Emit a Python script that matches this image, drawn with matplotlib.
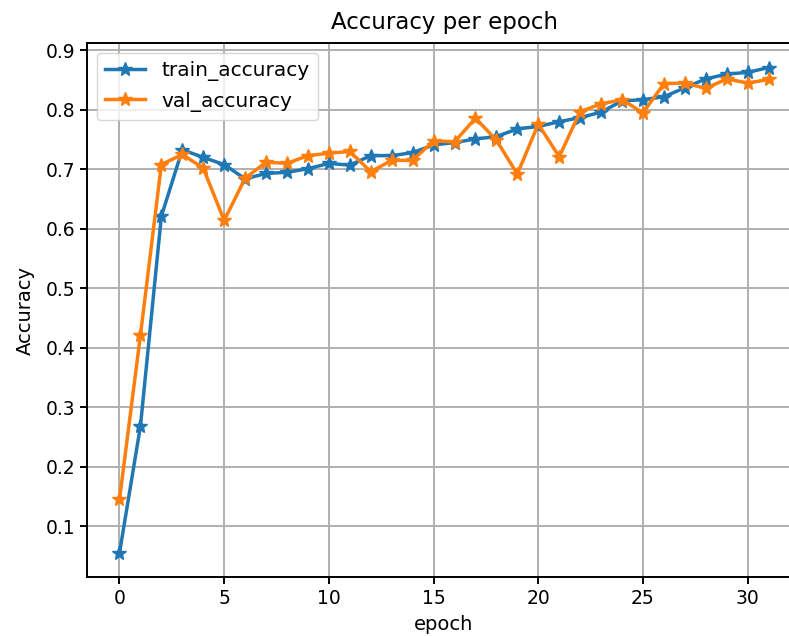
import matplotlib
matplotlib.use("Agg")
import matplotlib.pyplot as plt

plt.rcParams.update({
    'font.family': 'DejaVu Sans',
    'font.size': 13.5,
})

epochs = list(range(32))
train_accuracy = [0.055, 0.268, 0.621, 0.733, 0.720, 0.708, 0.684, 0.693, 0.695, 0.701,
                  0.710, 0.707, 0.723, 0.723, 0.728, 0.741, 0.745, 0.751, 0.755, 0.768,
                  0.772, 0.780, 0.787, 0.796, 0.815, 0.817, 0.822, 0.837, 0.852, 0.860,
                  0.863, 0.871]
val_accuracy = [0.145, 0.421, 0.708, 0.725, 0.702, 0.614, 0.685, 0.712, 0.710, 0.723,
                0.727, 0.730, 0.696, 0.715, 0.715, 0.748, 0.746, 0.786, 0.749, 0.692,
                0.776, 0.721, 0.797, 0.810, 0.817, 0.795, 0.844, 0.845, 0.836, 0.852,
                0.845, 0.851]

fig = plt.figure(figsize=(7.89, 6.36), dpi=100)
ax = fig.add_axes([0.1103, 0.0923, 0.905, 0.8396])

ax.plot(epochs, train_accuracy, marker='*', linewidth=2.5, markersize=10, label='train_accuracy')
ax.plot(epochs, val_accuracy, marker='*', linewidth=2.5, markersize=10, label='val_accuracy')

ax.set_title("Accuracy per epoch", fontsize=16.5, pad=10)
ax.set_xlabel("epoch", fontsize=14, labelpad=5)
ax.set_ylabel("Accuracy", fontsize=14, labelpad=8)
ax.grid(True, linewidth=1.4, color='#b0b0b0')
ax.tick_params(width=1.4, length=5)
for s in ax.spines.values():
    s.set_linewidth(1.4)
ax.legend(loc='upper left', fontsize=14.5)

plt.savefig("out.png", dpi=100)
